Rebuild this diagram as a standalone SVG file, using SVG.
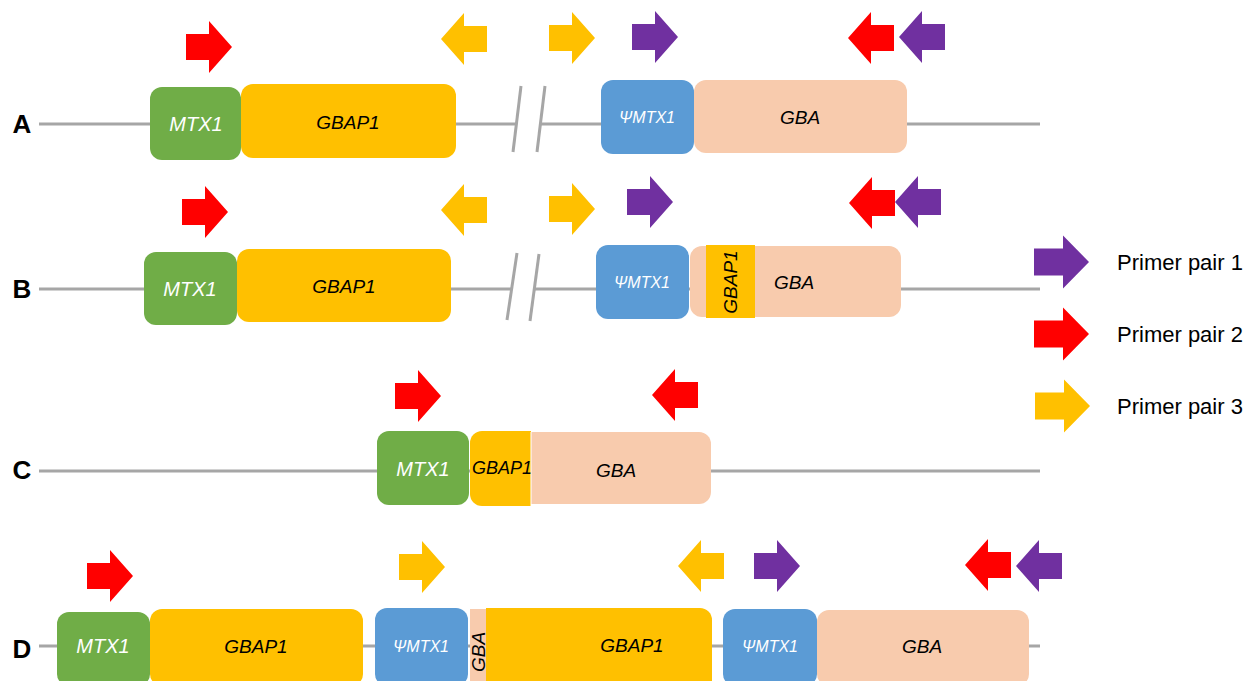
<svg xmlns="http://www.w3.org/2000/svg" xmlns:xlink="http://www.w3.org/1999/xlink" width="1252" height="681" viewBox="0 0 1252 681">
<style>
.bb{stroke:#A6A6A6;stroke-width:3;fill:none}
.g{fill:#70AD47}.y{fill:#FFC000}.b{fill:#5B9BD5}.p{fill:#F8CBAD}
.t{font-family:"Liberation Sans",Arial,sans-serif;font-style:italic;font-size:19px;text-anchor:middle;fill:#000}
.w{fill:#fff;font-size:20px}
.s{fill:#fff;font-size:16px}
.lab{font-family:"Liberation Sans",Arial,sans-serif;font-weight:bold;font-size:26px;text-anchor:middle;fill:#000}
.leg{font-family:"Liberation Sans",Arial,sans-serif;font-size:22px;fill:#000}
.red{fill:#FF0000}.pur{fill:#7030A0}.yel{fill:#FFC000}
</style>
<defs>
<path id="aR" d="M0,-13 H23 V-26 L46,0 L23,26 V13 H0 Z"/>
<path id="aL" d="M46,-13 H23 V-26 L0,0 L23,26 V13 H46 Z"/>
<path id="aRL" d="M0,-13.5 H29 V-26.5 L55,0 L29,26.5 V13.5 H0 Z"/>
</defs>

<g id="connectors">
<line class="bb" x1="39" y1="124" x2="517" y2="124"/>
<line class="bb" x1="541" y1="124" x2="1040" y2="124"/>
<line class="bb" x1="521" y1="86" x2="513" y2="152"/>
<line class="bb" x1="545" y1="86" x2="537" y2="152"/>
<line class="bb" x1="39" y1="289" x2="511" y2="289"/>
<line class="bb" x1="534" y1="289" x2="1040" y2="289"/>
<line class="bb" x1="517" y1="253" x2="507" y2="320"/>
<line class="bb" x1="539" y1="254" x2="530" y2="321"/>
<line class="bb" x1="39" y1="471" x2="1040" y2="471"/>
<line class="bb" x1="39" y1="646" x2="1040" y2="646"/>
</g>

<g id="labels">
<text class="lab" x="22" y="133">A</text>
<text class="lab" x="22" y="298">B</text>
<text class="lab" x="22" y="479">C</text>
<text class="lab" x="22" y="658">D</text>
</g>

<!-- Row A -->
<g id="A-MTX1"><rect class="g" x="150" y="87" width="91" height="73" rx="12"/><text class="t w" x="196" y="131">MTX1</text></g>
<g id="A-GBAP1"><rect class="y" x="241" y="84" width="215" height="74" rx="12"/><text class="t" x="348" y="129">GBAP1</text></g>
<g id="A-PMTX1"><rect class="b" x="601" y="80" width="93" height="74" rx="12"/><text class="t s" x="647" y="123">ΨMTX1</text></g>
<g id="A-GBA"><rect class="p" x="694" y="80" width="213" height="73" rx="12"/><text class="t" x="800" y="124">GBA</text></g>
<g id="A-primers">
<use xlink:href="#aR" class="red" transform="translate(186,47)"/>
<use xlink:href="#aL" class="yel" transform="translate(441,39)"/>
<use xlink:href="#aR" class="yel" transform="translate(549,38)"/>
<use xlink:href="#aR" class="pur" transform="translate(632,37)"/>
<use xlink:href="#aL" class="red" transform="translate(848,38)"/>
<use xlink:href="#aL" class="pur" transform="translate(899,37)"/>
</g>

<!-- Row B -->
<g id="B-MTX1"><rect class="g" x="144" y="252" width="93" height="73" rx="12"/><text class="t w" x="190" y="296">MTX1</text></g>
<g id="B-GBAP1"><rect class="y" x="237" y="249" width="214" height="73" rx="12"/><text class="t" x="344" y="293">GBAP1</text></g>
<g id="B-PMTX1"><rect class="b" x="596" y="245" width="93" height="74" rx="12"/><text class="t s" x="642" y="288">ΨMTX1</text></g>
<g id="B-GBA"><rect class="p" x="690" y="246" width="211" height="71" rx="12"/>
<rect class="y" x="706" y="245" width="49" height="73"/>
<text class="t" x="794" y="289">GBA</text>
<text class="t" transform="translate(737,282) rotate(-90)">GBAP1</text></g>
<g id="B-primers">
<use xlink:href="#aR" class="red" transform="translate(182,212)"/>
<use xlink:href="#aL" class="yel" transform="translate(441,210)"/>
<use xlink:href="#aR" class="yel" transform="translate(549,209)"/>
<use xlink:href="#aR" class="pur" transform="translate(627,202)"/>
<use xlink:href="#aL" class="red" transform="translate(849,203)"/>
<use xlink:href="#aL" class="pur" transform="translate(895,202)"/>
</g>

<!-- Row C -->
<g id="C-MTX1"><rect class="g" x="377" y="431" width="92" height="74" rx="12"/><text class="t w" x="423" y="476">MTX1</text></g>
<g id="C-GBA"><rect class="p" x="520" y="432" width="191" height="72" rx="12"/><text class="t" x="616" y="477">GBA</text></g>
<g id="C-GBAP1"><path class="y" d="M482,431 H531 V506 H482 A12,12 0 0 1 470,494 V443 A12,12 0 0 1 482,431 Z"/>
<line x1="531" y1="432" x2="531" y2="506" stroke="#fff" stroke-width="1"/>
<text class="t" x="502" y="474" style="font-size:18px">GBAP1</text></g>
<g id="C-primers">
<use xlink:href="#aR" class="red" transform="translate(395,396)"/>
<use xlink:href="#aL" class="red" transform="translate(652,395)"/>
</g>

<!-- Row D -->
<g id="D-MTX1"><rect class="g" x="57" y="612" width="93" height="74" rx="12"/><text class="t w" x="103" y="653">MTX1</text></g>
<g id="D-GBAP1a"><rect class="y" x="150" y="609" width="213" height="77" rx="12"/><text class="t" x="256" y="653">GBAP1</text></g>
<g id="D-PMTX1a"><rect class="b" x="375" y="608" width="93" height="78" rx="12"/><text class="t s" x="421" y="652">ΨMTX1</text></g>
<g id="D-GBAstrip"><rect class="p" x="470" y="609" width="16" height="77"/>
<text class="t" transform="translate(485,652) rotate(-90)">GBA</text></g>
<g id="D-GBAP1b"><path class="y" d="M486,608 H700 A12,12 0 0 1 712,620 V686 H486 Z"/><text class="t" x="632" y="652">GBAP1</text></g>
<g id="D-PMTX1b"><rect class="b" x="723" y="609" width="94" height="77" rx="12"/><text class="t s" x="770" y="652">ΨMTX1</text></g>
<g id="D-GBA"><rect class="p" x="817" y="610" width="212" height="76" rx="12"/><text class="t" x="922" y="653">GBA</text></g>
<g id="D-primers">
<use xlink:href="#aR" class="red" transform="translate(87,576)"/>
<use xlink:href="#aR" class="yel" transform="translate(399,567)"/>
<use xlink:href="#aL" class="yel" transform="translate(678,566)"/>
<use xlink:href="#aR" class="pur" transform="translate(754,566)"/>
<use xlink:href="#aL" class="red" transform="translate(965,565)"/>
<use xlink:href="#aL" class="pur" transform="translate(1016,566)"/>
</g>

<!-- Legend -->
<g id="legend">
<use xlink:href="#aRL" class="pur" transform="translate(1034,262)"/>
<use xlink:href="#aRL" class="red" transform="translate(1034,334)"/>
<use xlink:href="#aRL" class="yel" transform="translate(1035,406)"/>
<text class="leg" x="1117" y="270">Primer pair 1</text>
<text class="leg" x="1117" y="342">Primer pair 2</text>
<text class="leg" x="1117" y="414">Primer pair 3</text>
</g>
</svg>
